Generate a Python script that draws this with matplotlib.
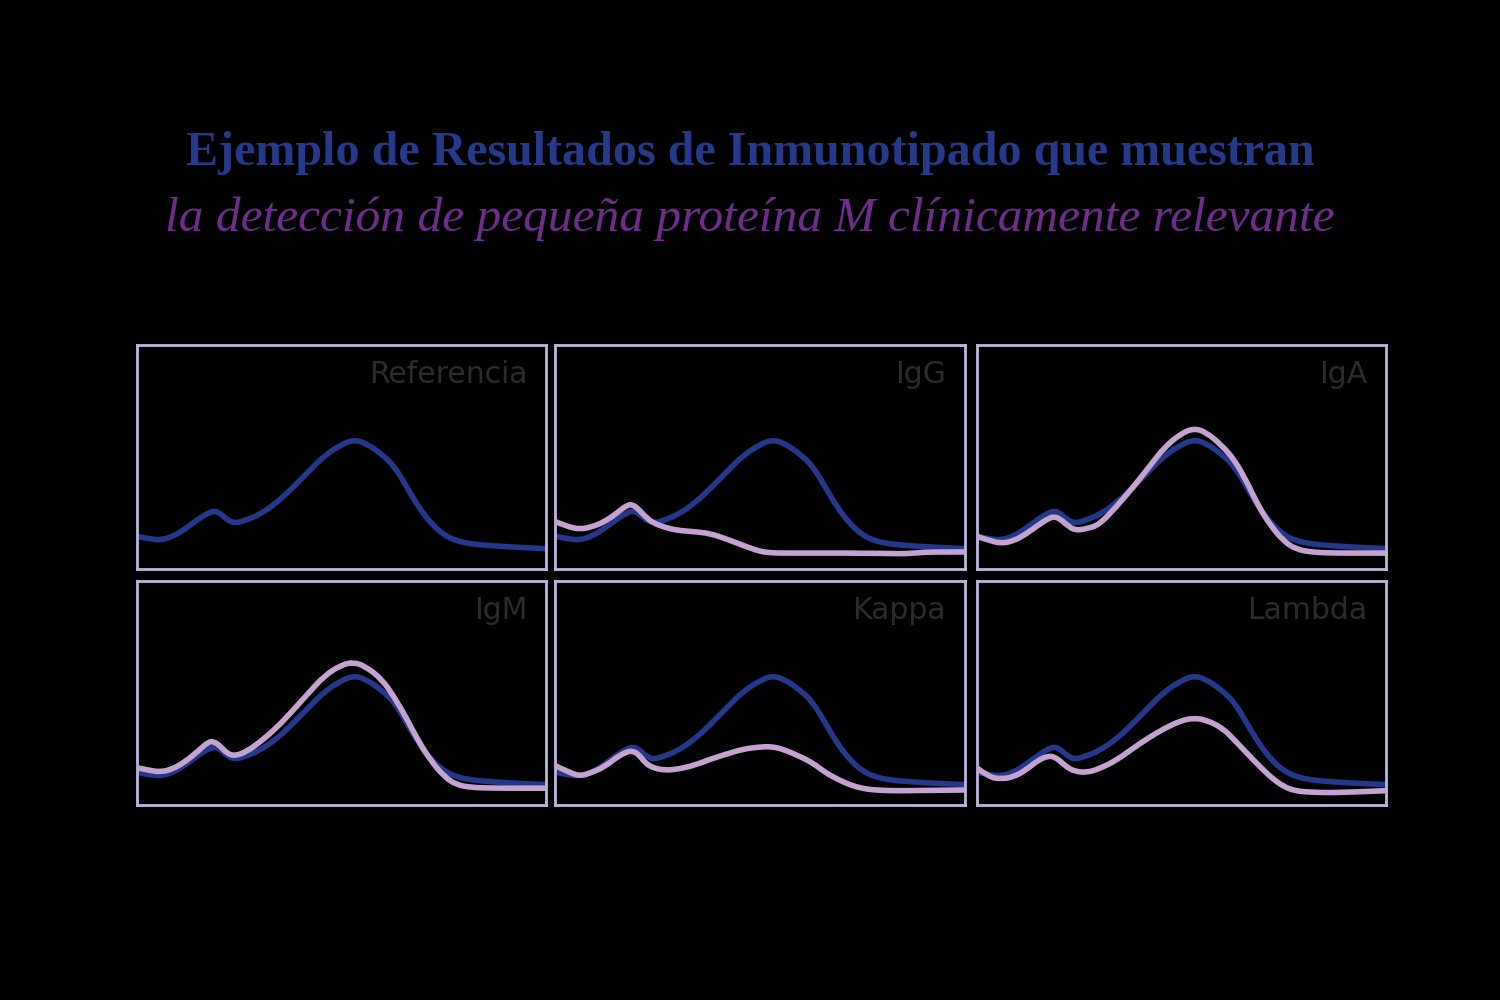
import matplotlib
matplotlib.use("Agg")
import matplotlib.pyplot as plt
from matplotlib.path import Path
from matplotlib.patches import PathPatch

# Shared mobility grid (0 = left edge of panel, 100 = right edge)
x = [0, 3, 6, 9, 12, 15, 17.5, 19, 20.5, 22, 24, 27, 30, 34, 38, 42, 46, 50,
     53, 56, 60, 63, 66, 69, 72, 75, 78, 82, 86, 90, 95, 100]

# Reference electrophoresis trace (blue, same in every panel)
referencia = [0.146, 0.135, 0.129, 0.146, 0.180, 0.222, 0.250, 0.260, 0.248,
              0.222, 0.203, 0.220, 0.243, 0.292, 0.360, 0.435, 0.508, 0.555,
              0.577, 0.562, 0.511, 0.458, 0.366, 0.273, 0.202, 0.153, 0.126,
              0.111, 0.105, 0.100, 0.095, 0.091]

# Immunosubtraction traces (pink)
igg = [0.212, 0.190, 0.177, 0.188, 0.210, 0.248, 0.285, 0.288, 0.265, 0.235,
       0.205, 0.185, 0.172, 0.167, 0.158, 0.133, 0.105, 0.078, 0.072, 0.071,
       0.071, 0.071, 0.071, 0.071, 0.071, 0.070, 0.070, 0.069, 0.068, 0.075,
       0.076, 0.076]
iga = [0.146, 0.128, 0.114, 0.125, 0.155, 0.195, 0.225, 0.235, 0.222, 0.198,
       0.172, 0.180, 0.198, 0.275, 0.360, 0.452, 0.546, 0.605, 0.628, 0.612,
       0.550, 0.487, 0.390, 0.275, 0.190, 0.125, 0.088, 0.075, 0.072, 0.071,
       0.071, 0.071]
igm = [0.167, 0.155, 0.147, 0.162, 0.195, 0.240, 0.282, 0.283, 0.262, 0.232,
       0.218, 0.240, 0.279, 0.341, 0.418, 0.500, 0.579, 0.625, 0.638, 0.618,
       0.560, 0.480, 0.385, 0.280, 0.195, 0.130, 0.090, 0.078, 0.076, 0.075,
       0.075, 0.075]
kappa = [0.176, 0.150, 0.128, 0.145, 0.170, 0.212, 0.238, 0.241, 0.225, 0.188,
         0.165, 0.155, 0.160, 0.177, 0.205, 0.228, 0.250, 0.259, 0.261, 0.247,
         0.215, 0.187, 0.145, 0.115, 0.090, 0.074, 0.067, 0.064, 0.064, 0.065,
         0.066, 0.067]
lambda_ = [0.167, 0.125, 0.116, 0.125, 0.155, 0.200, 0.219, 0.215, 0.195, 0.170,
           0.150, 0.145, 0.162, 0.198, 0.250, 0.300, 0.343, 0.377, 0.388, 0.380,
           0.345, 0.290, 0.232, 0.175, 0.122, 0.082, 0.062, 0.057, 0.055, 0.057,
           0.060, 0.064]

labels = ["Referencia", "IgG", "IgA", "IgM", "Kappa", "Lambda"]
overlays = [None, igg, iga, igm, kappa, lambda_]

title1 = "Ejemplo de Resultados de Inmunotipado que muestran"
title2 = "la detección de pequeña proteína M clínicamente relevante"

BG = "#000000"
BLUE = "#24378a"
PINK = "#c5a3d1"
FRAME = "#bdb6dc"
LABEL = "#2b2b2b"


def smooth_path(xs, ys):
    """Quadratic B-spline style path through the data (rendering only)."""
    verts = [(xs[0], ys[0])]
    codes = [Path.MOVETO]
    for i in range(1, len(xs) - 1):
        mx = (xs[i] + xs[i + 1]) / 2.0
        my = (ys[i] + ys[i + 1]) / 2.0
        verts += [(xs[i], ys[i]), (mx, my)]
        codes += [Path.CURVE3, Path.CURVE3]
    verts.append((xs[-1], ys[-1]))
    codes.append(Path.LINETO)
    return Path(verts, codes)


fig = plt.figure(figsize=(15, 10), dpi=100, facecolor=BG)

lefts = [0.091, 0.370, 0.651]
width = 0.273
bottoms = [0.431, 0.195]
height = 0.224

for i, (lab, ov) in enumerate(zip(labels, overlays)):
    r, c = divmod(i, 3)
    ax = fig.add_axes([lefts[c], bottoms[r], width, height])
    ax.set_facecolor(BG)
    ax.add_patch(PathPatch(smooth_path(x, referencia), facecolor="none",
                           edgecolor=BLUE, lw=4.0, capstyle="round",
                           joinstyle="round", zorder=2))
    if ov is not None:
        ax.add_patch(PathPatch(smooth_path(x, ov), facecolor="none",
                               edgecolor=PINK, lw=4.0, capstyle="round",
                               joinstyle="round", zorder=3))
    ax.set_xlim(0, 100)
    ax.set_ylim(0, 1)
    ax.set_xticks([])
    ax.set_yticks([])
    for s in ax.spines.values():
        s.set_color(FRAME)
        s.set_linewidth(2.0)
    ax.text(0.955, 0.868, lab, transform=ax.transAxes, ha="right", va="center",
            fontsize=21.5, color=LABEL, family=["DejaVu Sans"])

fig.text(0.5, 1 - 0.165, title1, ha="center", va="baseline", fontsize=34.6,
         color="#25388a", family="Liberation Serif", fontweight="bold")
fig.text(0.5, 1 - 0.231, title2, ha="center", va="baseline", fontsize=35.6,
         color="#6e2c8c", family="Liberation Serif", style="italic")

fig.savefig("out.png", dpi=100, facecolor=BG)
